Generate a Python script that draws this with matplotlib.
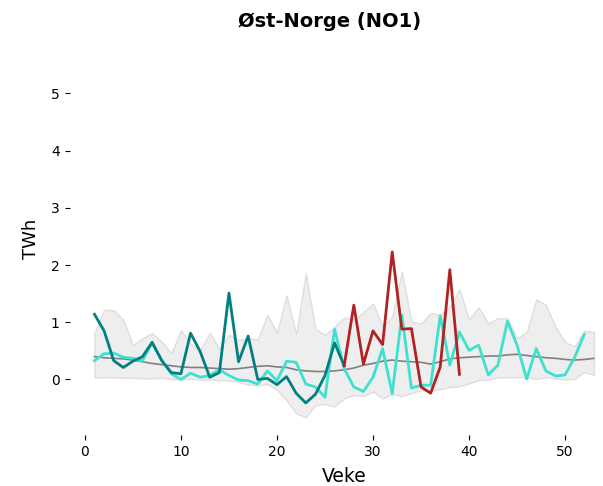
import matplotlib
matplotlib.use("Agg")
import matplotlib.pyplot as plt
import numpy as np

weeks_all = list(range(1, 54))

band_max = [0.81, 1.22, 1.21, 1.04, 0.60, 0.72, 0.81, 0.66, 0.46, 0.86,
            0.63, 0.51, 0.81, 0.54, 0.78, 0.69, 0.72, 0.70, 1.13, 0.82,
            1.47, 0.79, 1.85, 0.88, 0.78, 0.92, 1.08, 1.04, 1.18, 1.33,
            0.92, 1.10, 1.88, 1.01, 0.98, 1.16, 1.13, 1.27, 1.57, 1.05,
            1.26, 0.98, 1.07, 1.07, 0.72, 0.83, 1.40, 1.30, 0.92, 0.65,
            0.58, 0.85, 0.83]
band_min = [0.03, 0.04, 0.04, 0.03, 0.03, 0.02, 0.02, 0.03, 0.01, 0.00,
            0.01, 0.00, 0.00, -0.01, -0.02, -0.04, -0.09, -0.10, -0.08, -0.18,
            -0.36, -0.59, -0.66, -0.45, -0.43, -0.47, -0.33, -0.27, -0.29, -0.21,
            -0.33, -0.25, -0.29, -0.24, -0.18, -0.20, -0.17, -0.13, -0.12, -0.07,
            -0.01, 0.00, 0.04, 0.04, 0.04, 0.04, 0.01, 0.04, 0.02, 0.00,
            0.01, 0.13, 0.08]
median = [0.40, 0.38, 0.37, 0.36, 0.34, 0.31, 0.28, 0.26, 0.24, 0.22,
          0.21, 0.21, 0.20, 0.19, 0.18, 0.19, 0.21, 0.23, 0.24, 0.22,
          0.21, 0.17, 0.15, 0.14, 0.14, 0.15, 0.17, 0.20, 0.25, 0.28,
          0.32, 0.34, 0.32, 0.31, 0.30, 0.27, 0.31, 0.36, 0.38, 0.39,
          0.40, 0.41, 0.41, 0.43, 0.44, 0.42, 0.40, 0.38, 0.37, 0.35,
          0.34, 0.35, 0.37]

weeks_prev = list(range(1, 53))
prev_year = [0.33, 0.45, 0.46, 0.39, 0.37, 0.33, 0.64, 0.34, 0.10, 0.00,
             0.11, 0.04, 0.07, 0.17, 0.07, -0.01, -0.02, -0.08, 0.15, -0.02,
             0.32, 0.30, -0.08, -0.13, -0.31, 0.88, 0.19, -0.13, -0.21, 0.04,
             0.54, -0.25, 1.13, -0.15, -0.10, -0.10, 1.11, 0.25, 0.83, 0.51,
             0.60, 0.08, 0.25, 1.02, 0.60, 0.01, 0.54, 0.15, 0.06, 0.08,
             0.39, 0.79]

weeks_cur = list(range(1, 28))
cur_year = [1.14, 0.85, 0.33, 0.21, 0.32, 0.40, 0.65, 0.33, 0.12, 0.10,
            0.81, 0.49, 0.04, 0.12, 1.51, 0.31, 0.76, 0.00, 0.02, -0.09,
            0.05, -0.24, -0.41, -0.26, 0.07, 0.64, 0.24]

weeks_fc = list(range(27, 40))
forecast = [0.24, 1.30, 0.27, 0.85, 0.61, 2.23, 0.88, 0.89, -0.13, -0.24,
            0.22, 1.92, 0.09]

fig = plt.figure(figsize=(6.03, 4.86), dpi=100)
ax = fig.add_axes([0.1153, 0.105, 0.911, 0.8086])

ax.fill_between(weeks_all, band_min, band_max, facecolor="#eeeeee",
                edgecolor="#dedede", linewidth=1.0, zorder=1)
ax.plot(weeks_all, median, color="#808080", linewidth=1.2, zorder=2)
ax.plot(weeks_prev, prev_year, color="#40E0D0", linewidth=2, zorder=3)
ax.plot(weeks_cur, cur_year, color="#008080", linewidth=2, zorder=4)
ax.plot(weeks_fc, forecast, color="#B22222", linewidth=2, zorder=5)

ax.set_xlim(-1.6, 55.6)
ax.set_ylim(-0.97, 5.9)
ax.set_yticks([0, 1, 2, 3, 4, 5])
ax.set_xticks([0, 10, 20, 30, 40, 50])
for s in ax.spines.values():
    s.set_visible(False)
ax.set_xlabel("Veke", fontsize=13.5, labelpad=6)
ax.set_ylabel("TWh", fontsize=13, labelpad=8)
ax.set_title("Øst-Norge (NO1)", fontsize=14, fontweight="bold", pad=11,
             x=0.474)

fig.savefig("out.png", dpi=100)
